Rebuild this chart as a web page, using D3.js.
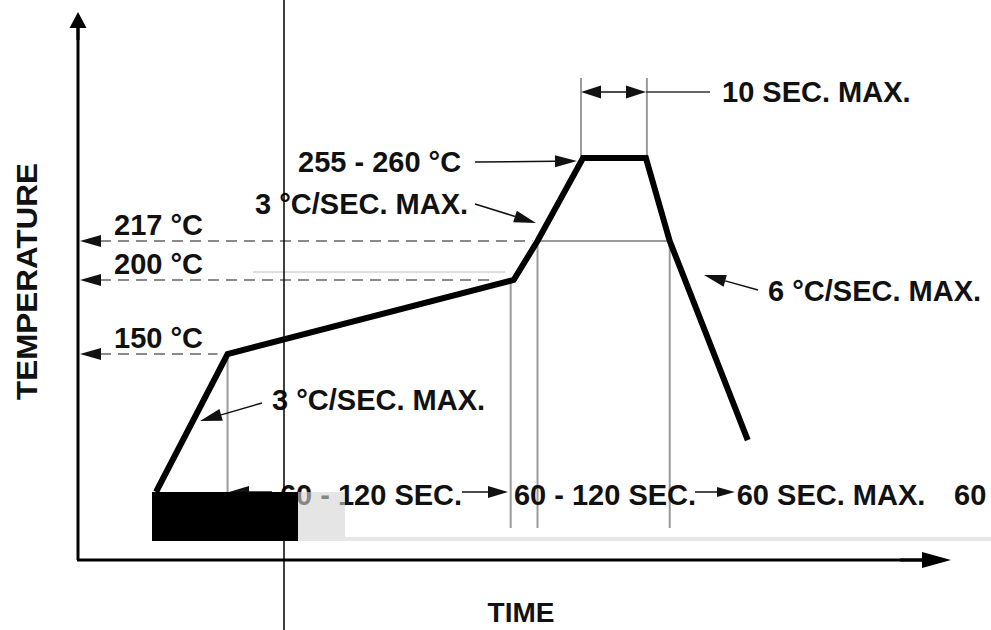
<!DOCTYPE html>
<html>
<head>
<meta charset="utf-8">
<script src="https://cdn.jsdelivr.net/npm/d3@7"></script>
<style>
  body { margin: 0; background: #fff; }
  text { font-family: "Liberation Sans", Arial, sans-serif; font-weight: bold; fill: #111; }
</style>
</head>
<body>
<div id="chart"></div>
<script>
// reflow profile (schematic) - time in sec, temp in deg C
var profileTime = [36, 69, 201, 212, 233, 262, 273, 309];
var profileTemp = [25, 150, 200, 217, 255, 255, 217, 72];

// reference temperatures on the left axis
var refTemps = [150, 200, 217];
var refLabels = ['150 °C', '200 °C', '217 °C'];

var peakLabel = '255 - 260 °C';
var peakDuration = '10 SEC. MAX.';
var rampLabels = ['3 °C/SEC. MAX.', '3 °C/SEC. MAX.', '6 °C/SEC. MAX.'];
var durationLabels = ['60 - 120 SEC.', '60 - 120 SEC.', '60 SEC. MAX.', '60'];

var svgWidth = 991;
var svgHeight = 630;

var svg = d3.select('#chart')
  .append('svg')
  .attr('width', svgWidth)
  .attr('height', svgHeight);

// schematic scales: time is linear, temperature is piecewise
var xScale = d3.scaleLinear().domain([0, 400]).range([78, 945]);
var yScale = d3.scaleLinear()
  .domain([25, 150, 200, 217, 255])
  .range([492, 354, 280, 241, 158]);

var points = profileTime.map(function(t, i) { return [xScale(t), yScale(profileTemp[i])]; });

// helper: line with a filled arrow head at (x2, y2)
function arrow(x1, y1, x2, y2, len, half, width, colour) {
  colour = colour || '#111';
  var a = Math.atan2(y2 - y1, x2 - x1);
  var bx = x2 - len * Math.cos(a), by = y2 - len * Math.sin(a);
  svg.append('line')
    .attr('x1', x1).attr('y1', y1).attr('x2', bx).attr('y2', by)
    .attr('stroke', colour).attr('stroke-width', width || 1.5);
  var px = -Math.sin(a) * half, py = Math.cos(a) * half;
  svg.append('path')
    .attr('d', 'M' + x2 + ',' + y2 + 'L' + (bx + px) + ',' + (by + py) + 'L' + (bx - px) + ',' + (by - py) + 'Z')
    .attr('fill', colour);
}

function gray(x1, y1, x2, y2) {
  svg.append('line')
    .attr('x1', x1).attr('y1', y1).attr('x2', x2).attr('y2', y2)
    .attr('stroke', '#9a9a9a').attr('stroke-width', 2);
}

// gray guide lines
gray(points[1][0], points[1][1], points[1][0], 492);
gray(xScale(profileTime[2]) - 3, points[2][1], xScale(profileTime[2]) - 3, 528);
gray(points[3][0], points[3][1], points[3][0], 528);
gray(points[6][0], points[6][1], points[6][0], 528);
gray(points[3][0], yScale(217), points[6][0], yScale(217));
gray(points[4][0] - 2, 78, points[4][0] - 2, points[4][1]);
gray(points[5][0] + 1, 78, points[5][0] + 1, points[5][1]);

// dashed lines to the temperature axis + arrows
refTemps.forEach(function(t, i) {
  var y = yScale(t);
  var xEnd = i === 0 ? points[1][0] - 10 : (i === 1 ? points[2][0] - 20 : points[3][0] - 5);
  svg.append('line')
    .attr('x1', 100).attr('y1', y).attr('x2', xEnd).attr('y2', y)
    .attr('stroke', '#8a8a8a').attr('stroke-width', 2)
    .attr('stroke-dasharray', '11,7');
  arrow(101, y, 80, y, 21, 6, 2);
  svg.append('text')
    .attr('x', 114).attr('y', y - 6)
    .attr('font-size', 29)
    .text(refLabels[i]);
});

// the profile itself
svg.append('path')
  .attr('d', d3.line()(points))
  .attr('fill', 'none')
  .attr('stroke', '#000')
  .attr('stroke-width', 6)
  .attr('stroke-linejoin', 'miter');

// axes
svg.append('line').attr('x1', 78).attr('y1', 560).attr('x2', 78).attr('y2', 20)
  .attr('stroke', '#000').attr('stroke-width', 3);
arrow(78, 40, 78, 12, 16, 8.5, 3, '#000');
svg.append('line').attr('x1', 77).attr('y1', 560).attr('x2', 925).attr('y2', 560)
  .attr('stroke', '#000').attr('stroke-width', 3);
arrow(900, 560, 951, 560, 29, 8, 3, '#000');

svg.append('text')
  .attr('transform', 'translate(37,' + 400 + ') rotate(-90)')
  .attr('font-size', 29)
  .attr('textLength', 237)
  .attr('lengthAdjust', 'spacingAndGlyphs')
  .text('TEMPERATURE');
svg.append('text')
  .attr('x', 521).attr('y', 622)
  .attr('text-anchor', 'middle')
  .attr('font-size', 28)
  .text('TIME');

// peak annotation
svg.append('text').attr('x', 298).attr('y', 172).attr('font-size', 29).text(peakLabel);
arrow(475, 162, 577, 161, 22, 6, 1.5);

// 10 sec dimension
arrow(614, 92, 581, 92, 20, 6.5, 1.5);
arrow(614, 92, 646, 92, 20, 6.5, 1.5);
svg.append('line').attr('x1', 646).attr('y1', 92).attr('x2', 710).attr('y2', 92)
  .attr('stroke', '#333').attr('stroke-width', 1.5);
svg.append('text').attr('x', 722).attr('y', 102).attr('font-size', 29).text(peakDuration);

// ramp rates
svg.append('text').attr('x', 255).attr('y', 214).attr('font-size', 29).text(rampLabels[0]);
arrow(475, 204, 536, 223, 22, 6, 1.5);
svg.append('text').attr('x', 272).attr('y', 410).attr('font-size', 29).text(rampLabels[1]);
arrow(262, 403, 200, 421, 22, 6, 1.5);
svg.append('text').attr('x', 768).attr('y', 301).attr('font-size', 29).text(rampLabels[2]);
arrow(758, 290, 704, 275, 22, 6, 1.5);

// durations along the bottom
svg.append('text').attr('x', 371).attr('y', 505).attr('text-anchor', 'middle').attr('font-size', 29).text(durationLabels[0]);
arrow(272, 492, 229, 492, 20, 6, 1.5);
arrow(462, 492, 508, 492, 20, 6, 1.5);
svg.append('text').attr('x', 605).attr('y', 505).attr('text-anchor', 'middle').attr('font-size', 29).text(durationLabels[1]);
arrow(695, 492, 735, 492, 18, 5, 1.5);
svg.append('text').attr('x', 831).attr('y', 505).attr('text-anchor', 'middle').attr('font-size', 29).text(durationLabels[2]);
svg.append('text').attr('x', 954).attr('y', 505).attr('font-size', 29).text(durationLabels[3]);

// scan damage seen in the original picture
svg.append('rect').attr('x', 152).attr('y', 492).attr('width', 146).attr('height', 49).attr('fill', '#000');
svg.append('rect').attr('x', 298).attr('y', 492).attr('width', 47).attr('height', 49).attr('fill', '#d4d4d4').attr('opacity', 0.6);
svg.append('rect').attr('x', 345).attr('y', 537).attr('width', 646).attr('height', 4).attr('fill', '#e6e6e6');
svg.append('line').attr('x1', 253).attr('y1', 272).attr('x2', 505).attr('y2', 272)
  .attr('stroke', '#bbb').attr('stroke-width', 1);
svg.append('line').attr('x1', 284).attr('y1', 0).attr('x2', 284).attr('y2', 630)
  .attr('stroke', '#000').attr('stroke-width', 1.5);
</script>
</body>
</html>
